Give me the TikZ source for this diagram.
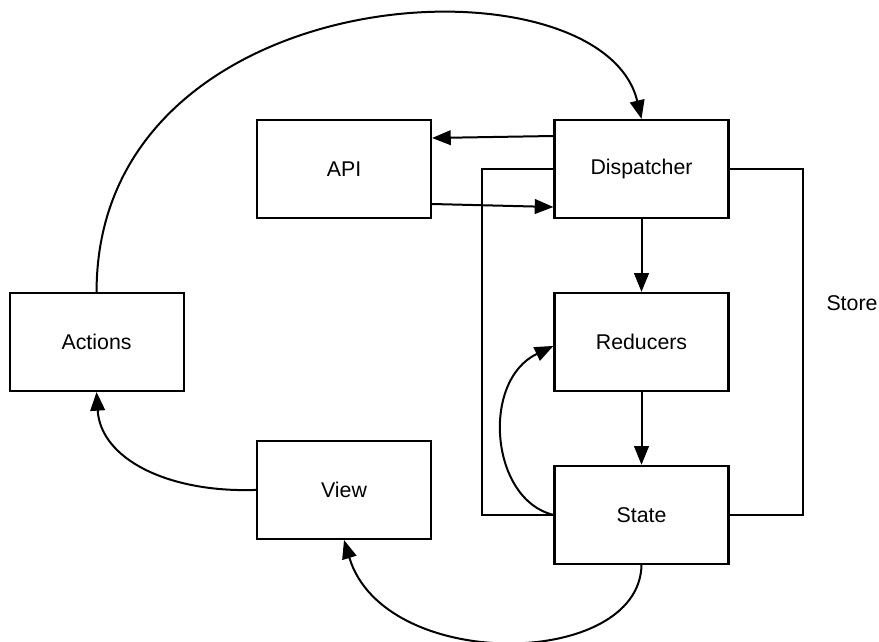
\documentclass[tikz,border=0pt]{standalone}
\usepackage{fontspec}
\setmainfont{Liberation Sans}
\usetikzlibrary{positioning,arrows.meta}
\tikzset{
  block/.style={draw=black, line width=1.6pt, minimum width=130.5pt, minimum height=73.5pt,
    inner sep=0pt, fill=white},
  arr/.style={-{Triangle[length=14pt,width=11pt]}, line width=1.5pt},
  wire/.style={line width=1.5pt},
}

\begin{document}
\begin{tikzpicture}[x=0.75pt, y=0.75pt, font=\fontsize{16pt}{19pt}\selectfont]
    \useasboundingbox (0,0) rectangle (879,-642);
    \node[block] (disp) at (641.5,-169) {Dispatcher};
    \node[block, left=91pt of disp] (api) {API};
    \node[block, below=54.6pt of disp] (red) {Reducers};
    \node[block, below=54.6pt of red] (state) {State};
    \node[block, left=276.6pt of red] (act) {Actions};
    \node[block, below=165.6pt of api] (view) {View};
    % store outline
    \coordinate (storeL) at (482,-342);
    \coordinate (storeR) at (803,-342);
    \draw[wire] (disp.west) -| (storeL) |- (state.west);
    \draw[wire] (disp.east) -| (storeR) |- (state.east);
    \node (store) at (852,-303) {Store};
    \draw[arr] ([yshift=24.75pt]disp.west) -- ([yshift=23.25pt]api.east);
    \draw[arr] ([yshift=-26.25pt]api.east) -- ([yshift=-28.5pt]disp.west);
    \draw[arr] (disp) -- (red);
    \draw[arr] (red) -- (state);
    \draw[arr] (state.west) .. controls +(-63,15) and +(-73,-35) .. ([yshift=-3pt]red.west);
    \draw[arr] (state.south) .. controls +(-2,-104) and +(40,-133) .. (view.south);
    \draw[arr] (view.west) .. controls +(-88,-3) and +(4,-67) .. (act.south);
    \draw[arr] (act.north) .. controls +(0,318) and +(-40,168) .. (disp.north);
\end{tikzpicture}
\end{document}
